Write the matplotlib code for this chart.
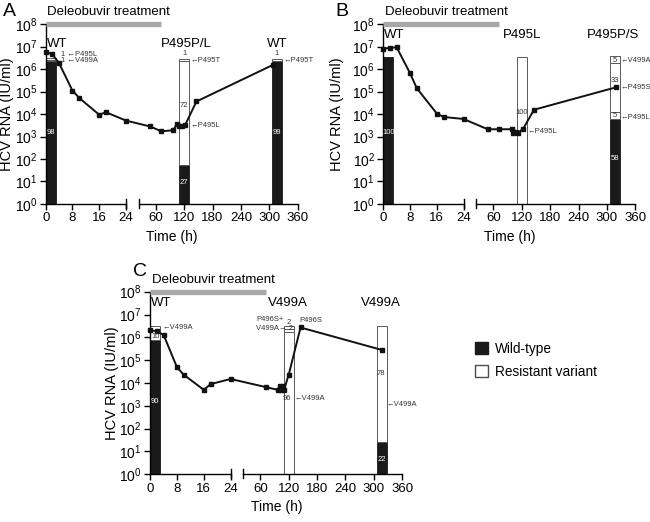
"""HCV RNA time courses under deleobuvir with variant composition bars (3 panels)."""

import matplotlib

matplotlib.use("Agg")
import matplotlib.pyplot as plt
import numpy as np
from matplotlib.patches import Patch

plt.rcParams["font.family"] = ["Liberation Sans", "DejaVu Sans"]
plt.rcParams["mathtext.fontset"] = "custom"
plt.rcParams["mathtext.rm"] = "Liberation Sans"

DARK = "#333333"
ARROW = "\u2190"

# ---- panel A ----
A_TIME = [0, 2, 4, 8, 10, 16, 18, 24, 48, 72, 97, 105, 109, 115, 122, 146, 307]
A_RNA = [5.9e6, 4.5e6, 1.8e6, 1.1e5, 5.2e4, 9.3e3, 1.2e4, 5.1e3, 2.8e3, 1.7e3,
         1.9e3, 3.7e3, 2.9e3, 3.0e3, 3.2e3, 3.6e4, 1.5e6]
A_BAR_TIME = [1.5, 120, 317]
A_BAR_TOP = [3.0e6, 2.7e6, 2.7e6]
A_BAR_PCT = [[98, 1, 1], [27, 72, 1], [99, 1]]
A_BAR_KIND = [["wt", "res", "res"], ["wt", "res", "res"], ["wt", "res"]]
A_HEADERS = ["WT", "P495P/L", "WT"]
A_HEADER_TIME = [3.3, 125, 316]
A_HEADER_Y = 10**7.1

# ---- panel B ----
B_TIME = [0, 2, 4, 8, 10, 16, 18, 24, 48, 72, 99, 101, 107, 113, 123, 146, 320]
B_RNA = [7.8e6, 8.9e6, 9.1e6, 6.5e5, 1.4e5, 1.05e4, 7.4e3, 6.0e3, 2.1e3, 2.1e3,
         2.1e3, 1.5e3, 1.6e3, 1.5e3, 2.2e3, 1.55e4, 1.55e5]
B_BAR_TIME = [1.5, 120, 317]
B_BAR_TOP = [3.5e6, 3.5e6, 3.8e6]
B_BAR_PCT = [[100], [100], [58, 5, 33, 5]]
B_BAR_KIND = [["wt"], ["res"], ["wt", "res", "res", "res"]]
B_HEADERS = ["WT", "P495L", "P495P/S"]
B_HEADER_TIME = [3.2, 120, 313]
B_HEADER_Y = 10**7.5

# ---- panel C ----
C_TIME = [0, 2, 4, 8, 10, 16, 18, 24, 72, 97, 101, 104, 108, 110, 120, 145, 317]
C_RNA = [2.0e6, 1.86e6, 1.26e6, 4.8e4, 2.3e4, 5.0e3, 8.9e3, 1.5e4, 6.6e3, 5.0e3,
         7.4e3, 5.0e3, 7.4e3, 5.0e3, 2.3e4, 2.7e6, 2.8e5]
C_BAR_TIME = [1.5, 120, 317]
C_BAR_TOP = [3.3e6, 3.0e6, 3.0e6]
C_BAR_PCT = [[90, 10], [96, 2, 2], [22, 78]]
C_BAR_KIND = [["wt", "res"], ["res", "res", "res"], ["wt", "res"]]
C_HEADERS = ["WT", "V499A", "V499A"]
C_HEADER_TIME = [3.4, 118, 315]
C_HEADER_Y = 10**7.5

TREATMENT_END = 72

# text notes: (time, value, text, ha, color)
A_NOTES = [
    (1.5, 10**3.2, "98", "center", "white"),
    (4.6, 10**6.65, "1 " + ARROW + "P495L", "left", DARK),
    (4.6, 10**6.36, "1 " + ARROW + "V499A", "left", DARK),
    (120, 10**6.67, "1", "center", DARK),
    (134, 10**6.36, ARROW + "P495T", "left", DARK),
    (120, 10**4.36, "72", "center", DARK),
    (134, 10**3.47, ARROW + "P495L", "left", DARK),
    (120, 10**0.95, "27", "center", "white"),
    (316, 10**6.67, "1", "center", DARK),
    (329, 10**6.36, ARROW + "P495T", "left", DARK),
    (317, 10**3.2, "99", "center", "white"),
]
B_NOTES = [
    (1.5, 10**3.2, "100", "center", "white"),
    (120, 10**4.08, "100", "center", DARK),
    (132, 10**3.23, ARROW + "P495L", "left", DARK),
    (317, 10**2.02, "58", "center", "white"),
    (317, 10**3.93, "5", "center", DARK),
    (329, 10**3.86, ARROW + "P495L", "left", DARK),
    (317, 10**5.49, "33", "center", DARK),
    (329, 10**5.19, ARROW + "P495S", "left", DARK),
    (317, 10**6.40, "5", "center", DARK),
    (329, 10**6.40, ARROW + "V499A", "left", DARK),
]
C_NOTES = [
    (1.5, 10**3.18, "90", "center", "white"),
    (1.5, 10**6.05, "10", "center", DARK),
    (3.6, 10**6.45, ARROW + "V499A", "left", DARK),
    (117, 10**3.33, "96", "center", DARK),
    (132, 10**3.33, ARROW + "V499A", "left", DARK),
    (51.5, 10**6.80, "P496S+", "left", DARK),
    (51.5, 10**6.37, "V499A\u2192 2", "left", DARK),
    (120, 10**6.65, "2", "center", DARK),
    (143, 10**6.74, "P496S", "left", DARK),
    (317, 10**0.63, "22", "center", "white"),
    (315.6, 10**4.43, "78", "center", DARK),
    (326, 10**3.04, ARROW + "V499A", "left", DARK),
]

# broken time axis: 0-24 h stretched, 24-360 h compressed after a gap
LEFT_SPAN = 80.3
GAP_END = 93.0
RIGHT_RATE = (252.0 - GAP_END) / 336.0
LEFT_RATE = LEFT_SPAN / 24.0


def fwd(t):
    t = np.asarray(t, dtype=float)
    return np.where(t <= 24, t * LEFT_RATE, GAP_END + (t - 24) * RIGHT_RATE)


def inv(u):
    u = np.asarray(u, dtype=float)
    right = 24 + (u - GAP_END) / RIGHT_RATE
    return np.where(u <= LEFT_SPAN, u / LEFT_RATE, np.where(u < GAP_END, 24.0, right))


def draw_panel(ax, times, rna, bar_t, bar_top, bar_pct, bar_kind,
               headers, header_t, header_y, notes, ylabel_pad=0):
    ax.set_xscale("function", functions=(fwd, inv))
    ax.set_yscale("log")
    ax.set_xlim(0, 360)
    ax.set_ylim(1, 1e8)

    # composition bars: segment heights proportional on the log display
    for t, top, pcts, kinds in zip(bar_t, bar_top, bar_pct, bar_kind):
        width = 3 if t < 24 else 21
        cum = np.concatenate([[0], np.cumsum(pcts)]) / np.sum(pcts)
        edges = 10 ** (np.log10(top) * cum)
        for lo, hi, kind in zip(edges[:-1], edges[1:], kinds):
            if kind == "wt":
                ax.bar(t, hi - lo, bottom=lo, width=width, color="#1a1a1a",
                       edgecolor="#1a1a1a", linewidth=0.6, zorder=2)
            else:
                ax.bar(t, hi - lo, bottom=lo, width=width, color="white",
                       edgecolor="0.35", linewidth=0.7, zorder=2)

    ax.plot(times, rna, "-s", color="#111111", lw=1.4, ms=3, zorder=5, clip_on=False)

    ax.plot([0, TREATMENT_END], [1e8, 1e8], color="#a8a8a8", lw=3.8,
            solid_capstyle="butt", clip_on=False, zorder=6)
    ax.text(0.5, 1.065, "Deleobuvir treatment", transform=ax.get_xaxis_transform(),
            fontsize=9.5, ha="left", va="center")

    for name, t in zip(headers, header_t):
        ax.text(t, header_y, name, fontsize=9.5, ha="center", va="center")

    for t, y, txt, ha, col in notes:
        ax.text(t, y, txt, fontsize=5.5, ha=ha, va="center", color=col, zorder=7)

    # axes styling
    for side in ("top", "right", "bottom"):
        ax.spines[side].set_visible(False)
    ax.spines["left"].set_linewidth(1.0)
    ax.set_yticks(10.0 ** np.arange(9))
    ax.yaxis.set_minor_locator(matplotlib.ticker.NullLocator())
    ax.set_xticks([0, 8, 16, 24, 60, 120, 180, 240, 300, 360])
    ax.set_xticklabels(["0", "8", "16", "24", "60", "120", "180", "240", "300", "360"])
    ax.xaxis.set_minor_locator(matplotlib.ticker.NullLocator())
    ax.tick_params(direction="out", length=4, width=1.0, pad=2)
    ax.tick_params(axis="y", labelsize=10)
    ax.tick_params(axis="x", labelsize=9.5)

    trans = ax.get_xaxis_transform()
    ax.plot([0, 24], [0, 0], transform=trans, color="k", lw=1.0, clip_on=False)
    ax.plot([24.01, 360], [0, 0], transform=trans, color="k", lw=1.0, clip_on=False)
    for t in (24, 24.01):
        ax.plot([t, t], [-0.022, 0.028], transform=trans, color="k", lw=1.0,
                clip_on=False)

    ax.set_ylabel("HCV RNA (IU/ml)", fontsize=10.5, labelpad=ylabel_pad)
    ax.set_xlabel("Time (h)", fontsize=10, labelpad=4)


fig = plt.figure(figsize=(6.5, 5.22), dpi=100)
ax_a = fig.add_axes([0.0703, 0.6092, 0.3877, 0.3448])
ax_b = fig.add_axes([0.5897, 0.6092, 0.3877, 0.3448])
ax_c = fig.add_axes([0.2312, 0.0914, 0.3877, 0.3498])

draw_panel(ax_a, A_TIME, A_RNA, A_BAR_TIME, A_BAR_TOP, A_BAR_PCT, A_BAR_KIND,
           A_HEADERS, A_HEADER_TIME, A_HEADER_Y, A_NOTES, ylabel_pad=0.5)
draw_panel(ax_b, B_TIME, B_RNA, B_BAR_TIME, B_BAR_TOP, B_BAR_PCT, B_BAR_KIND,
           B_HEADERS, B_HEADER_TIME, B_HEADER_Y, B_NOTES, ylabel_pad=6)
draw_panel(ax_c, C_TIME, C_RNA, C_BAR_TIME, C_BAR_TOP, C_BAR_PCT, C_BAR_KIND,
           C_HEADERS, C_HEADER_TIME, C_HEADER_Y, C_NOTES, ylabel_pad=0.5)

fig.text(3 / 650, 1 - 12 / 522, "A", fontsize=14, ha="left", va="center")
fig.text(335 / 650, 1 - 12 / 522, "B", fontsize=14, ha="left", va="center")
fig.text(133 / 650, 1 - 271 / 522, "C", fontsize=14, ha="left", va="center")

handles = [Patch(facecolor="#1a1a1a", edgecolor="#1a1a1a", label="Wild-type"),
           Patch(facecolor="white", edgecolor="0.3", label="Resistant variant")]
fig.legend(handles=handles, loc="upper left", bbox_to_anchor=(475 / 650, 1 - 342 / 522),
           frameon=False, fontsize=9.8, handlelength=0.95, handleheight=0.95,
           handletextpad=0.55, labelspacing=0.65, borderpad=0, borderaxespad=0)

fig.savefig("out.png", dpi=100)
